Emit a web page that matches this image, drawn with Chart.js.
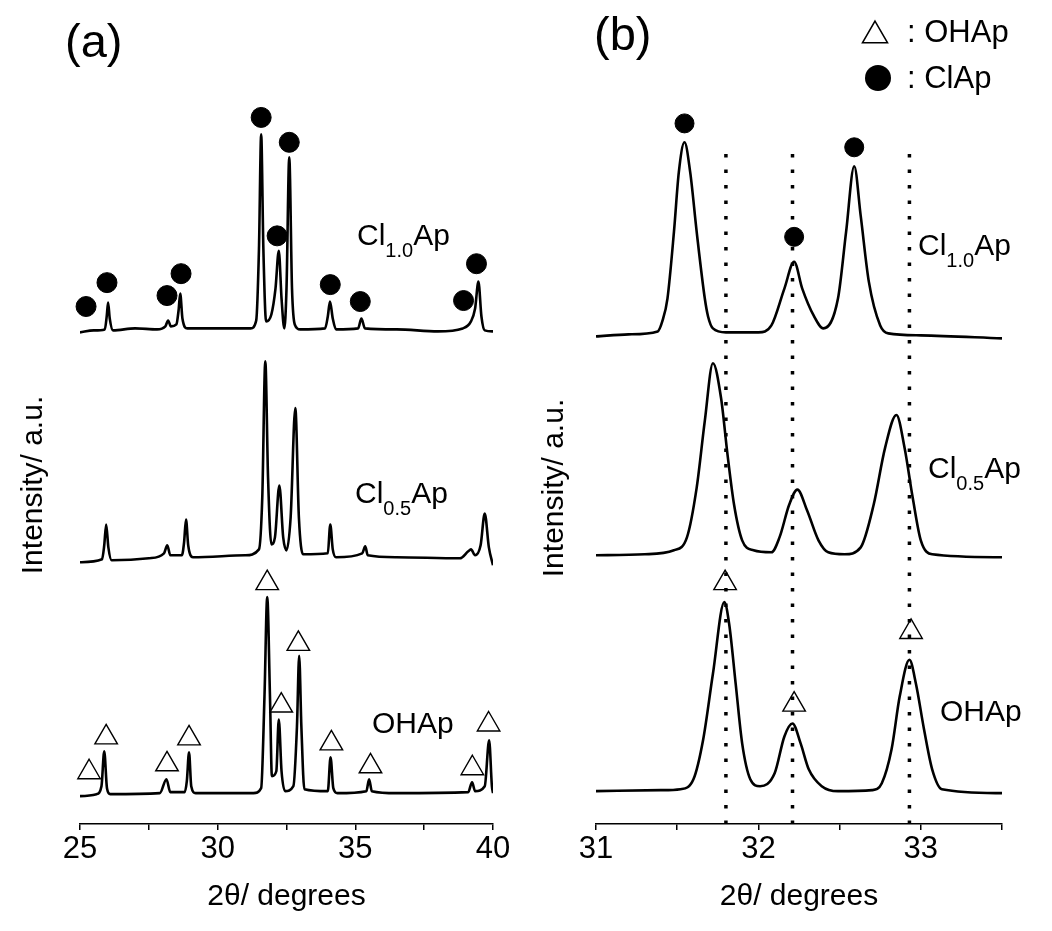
<!DOCTYPE html>
<html>
<head>
<meta charset="utf-8">
<script src="https://cdn.jsdelivr.net/npm/chart.js"></script>
<style>
  body { margin: 0; background: #fff; }
  #wrap { position: relative; width: 1052px; height: 931px; }
  canvas { position: absolute; top: 0; }
  #chartA { left: 0; }
  #chartB { left: 520px; }
</style>
</head>
<body>
<div id="wrap">
  <canvas id="chartA" width="520" height="931"></canvas>
  <canvas id="chartB" width="532" height="931"></canvas>
</div>
<script>
// ---- data: [2theta, intensity a.u.] ----

// panel (a), 25-40 degrees
const aCl10 = [
  [25.0, 494], [25.5, 496], [25.9, 497], [25.97, 510], [26.02, 524], [26.08, 508], [26.2, 496],
  [27.0, 498], [27.8, 497], [28.1, 500], [28.2, 506], [28.3, 500], [28.5, 502], [28.58, 516],
  [28.64, 533], [28.72, 508], [28.9, 498], [30.0, 498], [31.2, 498], [31.4, 506], [31.5, 578],
  [31.58, 693], [31.66, 578], [31.76, 505], [31.95, 512], [32.1, 538], [32.22, 576], [32.32, 528],
  [32.42, 498], [32.5, 538], [32.6, 670], [32.7, 538], [32.8, 502], [33.0, 497], [33.9, 498],
  [34.0, 510], [34.08, 525], [34.18, 508], [34.3, 497], [35.1, 498], [35.22, 508], [35.35, 498],
  [36.5, 497], [38.0, 495], [38.9, 498], [39.2, 505], [39.35, 518], [39.47, 545], [39.58, 510],
  [39.7, 496], [40.0, 495]
];
const aCl05 = [
  [25.0, 263], [25.8, 266], [25.88, 280], [25.95, 301], [26.03, 278], [26.15, 265], [27.5, 267],
  [28.05, 272], [28.17, 280], [28.28, 270], [28.7, 270], [28.78, 283], [28.85, 306], [28.93, 280],
  [29.1, 268], [31.0, 270], [31.5, 276], [31.62, 328], [31.73, 465], [31.83, 348], [31.95, 281],
  [32.08, 288], [32.24, 340], [32.38, 288], [32.5, 275], [32.65, 308], [32.82, 418], [32.95, 308],
  [33.1, 271], [34.0, 272], [34.09, 301], [34.18, 276], [34.3, 268], [35.25, 272], [35.36, 279],
  [35.45, 270], [36.5, 268], [38.8, 267], [39.1, 274], [39.2, 276], [39.35, 270], [39.55, 280],
  [39.7, 312], [39.85, 278], [40.0, 260]
];
const aOH = [
  [25.0, 28], [25.6, 30], [25.78, 38], [25.88, 73], [25.98, 36], [26.1, 30], [27.9, 31],
  [28.14, 45], [28.28, 32], [28.8, 32], [28.88, 43], [28.96, 72], [29.04, 38], [29.2, 31],
  [31.3, 31], [31.58, 36], [31.7, 128], [31.8, 228], [31.9, 128], [31.97, 48], [32.13, 53],
  [32.22, 105], [32.32, 53], [32.45, 33], [32.75, 38], [32.88, 98], [32.96, 169], [33.04, 98],
  [33.15, 35], [34.0, 33], [34.1, 67], [34.2, 36], [34.35, 31], [35.4, 33], [35.5, 45],
  [35.6, 33], [36.5, 31], [39.1, 32], [39.24, 42], [39.35, 33], [39.7, 38], [39.86, 84],
  [39.96, 38], [40.0, 31]
];
const aClApMarks = [
  [25.22, 520], [25.98, 544], [28.16, 531], [28.67, 553], [31.58, 710], [32.6, 685],
  [32.16, 591], [34.09, 542], [35.18, 525], [38.93, 526], [39.4, 563]
];
const aOHApMarks = [
  [25.33, 52], [25.95, 87], [28.16, 60], [28.96, 86], [31.8, 242], [32.31, 119],
  [32.93, 181], [34.13, 81], [35.55, 58], [39.25, 56], [39.84, 100]
];

// panel (b), 31-33.5 degrees
const bCl10 = [
  [31.0, 490], [31.2, 492], [31.38, 495], [31.41, 506], [31.44, 528], [31.48, 595], [31.51, 655],
  [31.545, 685], [31.58, 655], [31.62, 595], [31.67, 528], [31.69, 510], [31.72, 498], [31.8, 494],
  [32.0, 494], [32.08, 501], [32.16, 538], [32.22, 565], [32.27, 538], [32.34, 511], [32.4, 498],
  [32.49, 528], [32.54, 595], [32.59, 661], [32.63, 611], [32.68, 545], [32.75, 501], [32.8, 493],
  [33.0, 491], [33.5, 488]
];
const bCl05 = [
  [31.0, 270], [31.3, 271], [31.48, 275], [31.56, 288], [31.62, 338], [31.67, 405], [31.72, 463],
  [31.77, 428], [31.81, 371], [31.85, 321], [31.9, 285], [31.97, 275], [32.08, 273], [32.13, 288],
  [32.19, 321], [32.24, 336], [32.3, 315], [32.37, 285], [32.43, 273], [32.53, 271], [32.63, 278],
  [32.71, 321], [32.78, 378], [32.85, 411], [32.9, 378], [32.95, 328], [33.0, 285], [33.07, 271],
  [33.5, 268]
];
const bOH = [
  [31.0, 33], [31.4, 34], [31.52, 35], [31.6, 45], [31.66, 85], [31.72, 151], [31.79, 223],
  [31.82, 201], [31.86, 141], [31.9, 81], [31.95, 45], [32.01, 38], [32.1, 51], [32.16, 88],
  [32.21, 101], [32.26, 81], [32.31, 55], [32.39, 38], [32.49, 33], [32.7, 34], [32.76, 41],
  [32.82, 75], [32.87, 128], [32.93, 165], [32.97, 141], [33.02, 95], [33.07, 55], [33.13, 35],
  [33.5, 31]
];
const bClApMarks = [[31.545, 704], [32.22, 590], [32.59, 680]];
const bOHApMarks = [[31.795, 242], [32.22, 120], [32.94, 193]];
const bRefLines = [31.8, 32.21, 32.93];
const refLineTop = 681;

const xTitle = '2θ/ degrees';
const yTitle = 'Intensity/ a.u.';

// ---- helpers ----
const FONT = '"Liberation Sans", Arial, Helvetica, sans-serif';
Chart.defaults.font.family = FONT;
Chart.defaults.color = '#000';

const pts = (arr) => arr.map(([x, y]) => ({ x: x, y: y }));

function trace(arr) {
  return {
    type: 'line',
    data: pts(arr),
    borderColor: '#000',
    borderWidth: 2.6,
    pointRadius: 0,
    cubicInterpolationMode: 'monotone',
    order: 2,
  };
}

function marks(arr, style, radius) {
  const hollow = style === 'triangle';
  return {
    type: 'scatter',
    data: pts(arr),
    pointStyle: style,
    pointRadius: radius,
    pointBackgroundColor: hollow ? '#fff' : '#000',
    pointBorderColor: '#000',
    pointBorderWidth: hollow ? 1.4 : 1,
    clip: false,
    order: 1,
  };
}

function refLine(x) {
  return {
    type: 'line',
    data: [{ x: x, y: 0 }, { x: x, y: refLineTop }],
    borderColor: '#000',
    borderWidth: 3.5,
    borderDash: [3.5, 12],
    pointRadius: 0,
    order: 0,
  };
}

// text drawn on top: panel labels, sample names with subscripts, y title, legend
const textPlugin = {
  id: 'panelText',
  afterDraw(chart, args, opts) {
    const ctx = chart.ctx;
    ctx.save();
    ctx.fillStyle = '#000';
    ctx.textBaseline = 'alphabetic';
    ctx.textAlign = 'left';
    (opts.items || []).forEach((it) => {
      let x = it.x;
      ctx.font = it.size + 'px ' + FONT;
      ctx.fillText(it.text, x, it.y);
      x += ctx.measureText(it.text).width;
      if (it.sub) {
        ctx.font = Math.round(it.size * 0.66) + 'px ' + FONT;
        ctx.fillText(it.sub, x, it.y + 12);
        x += ctx.measureText(it.sub).width;
        ctx.font = it.size + 'px ' + FONT;
        ctx.fillText(it.after, x, it.y);
      }
    });
    if (opts.yTitle) {
      ctx.translate(opts.yTitle.x, opts.yTitle.y);
      ctx.rotate(-Math.PI / 2);
      ctx.textAlign = 'center';
      ctx.textBaseline = 'middle';
      ctx.font = '30px ' + FONT;
      ctx.fillText(yTitle, 0, 0);
      ctx.setTransform(1, 0, 0, 1, 0, 0);
    }
    if (opts.legend) {
      const lg = opts.legend;
      // hollow triangle
      const r = 14.5, tx = lg.x, ty = lg.y1 + 3.5;
      ctx.beginPath();
      for (let i = 0; i < 3; i++) {
        const a = i * 2 * Math.PI / 3;
        const px = tx + Math.sin(a) * r, py = ty - Math.cos(a) * r;
        if (i === 0) ctx.moveTo(px, py); else ctx.lineTo(px, py);
      }
      ctx.closePath();
      ctx.lineWidth = 1.5;
      ctx.strokeStyle = '#000';
      ctx.stroke();
      // filled circle
      ctx.beginPath();
      ctx.arc(lg.x + 3, lg.y2, 13, 0, 2 * Math.PI);
      ctx.fill();
      ctx.font = '31px ' + FONT;
      ctx.textAlign = 'left';
      ctx.textBaseline = 'alphabetic';
      ctx.fillText(': OHAp', lg.tx, lg.y1 + 10);
      ctx.fillText(': ClAp', lg.tx, lg.y2 + 10);
    }
    ctx.restore();
  }
};

function xScale(min, max, step, major) {
  return {
    type: 'linear',
    min: min,
    max: max,
    ticks: {
      stepSize: step,
      autoSkip: false,
      maxRotation: 0,
      padding: 4,
      font: { size: 31, lineHeight: 1 },
      callback: (v) => (Math.abs(v / major - Math.round(v / major)) < 1e-6 ? v : ''),
    },
    grid: { drawOnChartArea: false, drawTicks: true, tickLength: 6, color: '#000', lineWidth: 1.5 },
    border: { display: true, color: '#000', width: 1.5 },
    title: { display: true, text: xTitle, font: { size: 30, lineHeight: 1.2 }, padding: { top: 10, bottom: 6 } },
  };
}

function makeChart(id, datasets, x, pad, textOpts) {
  return new Chart(document.getElementById(id).getContext('2d'), {
    type: 'line',
    data: { datasets: datasets },
    options: {
      responsive: false,
      animation: false,
      layout: { padding: pad, autoPadding: false },
      scales: {
        x: x,
        y: { display: false, min: 0, max: 828 },
      },
      plugins: {
        legend: { display: false },
        tooltip: { enabled: false },
        panelText: textOpts,
      },
    },
    plugins: [textPlugin],
  });
}

makeChart('chartA',
  [
    trace(aCl10), trace(aCl05), trace(aOH),
    marks(aClApMarks, 'circle', 10),
    marks(aOHApMarks, 'triangle', 13),
  ],
  xScale(25, 40, 2.5, 5),
  { left: 80, right: 27, top: 0, bottom: 10 },
  {
    items: [
      { text: '(a)', x: 65, y: 57, size: 47 },
      { text: 'Cl', sub: '1.0', after: 'Ap', x: 357, y: 245, size: 30 },
      { text: 'Cl', sub: '0.5', after: 'Ap', x: 355, y: 503, size: 30 },
      { text: 'OHAp', x: 372, y: 733, size: 30 },
    ],
    yTitle: { x: 34, y: 485 },
  }
);

makeChart('chartB',
  [
    trace(bCl10), trace(bCl05), trace(bOH),
    marks(bClApMarks, 'circle', 9.5),
    marks(bOHApMarks, 'triangle', 13),
    ...bRefLines.map(refLine),
  ],
  xScale(31, 33.5, 0.5, 1),
  { left: 76, right: 50, top: 0, bottom: 10 },
  {
    items: [
      { text: '(b)', x: 74, y: 50, size: 47 },
      { text: 'Cl', sub: '1.0', after: 'Ap', x: 398, y: 255, size: 30 },
      { text: 'Cl', sub: '0.5', after: 'Ap', x: 408, y: 478, size: 30 },
      { text: 'OHAp', x: 420, y: 721, size: 30 },
    ],
    yTitle: { x: 35, y: 488 },
    legend: { x: 355, y1: 32, y2: 78, tx: 387 },
  }
);
</script>
</body>
</html>
